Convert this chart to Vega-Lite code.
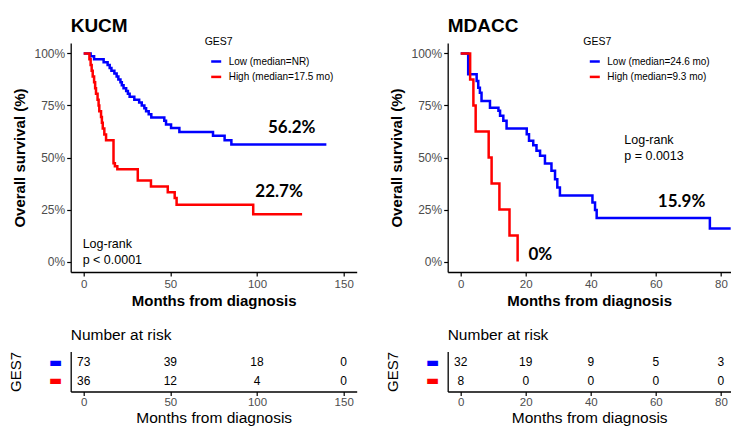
{
  "$schema": "https://vega.github.io/schema/vega-lite/v6.json",
  "padding": {"left": 7.7, "top": 16, "right": 0, "bottom": 0},
  "background": "white",
  "datasets": {
    "kucm_curve": [
      {"group": "Low (median=NR)", "time": 0, "surv": 1},
      {"group": "Low (median=NR)", "time": 4, "surv": 0.986},
      {"group": "Low (median=NR)", "time": 6, "surv": 0.972},
      {"group": "Low (median=NR)", "time": 11.5, "surv": 0.958},
      {"group": "Low (median=NR)", "time": 13.8, "surv": 0.944},
      {"group": "Low (median=NR)", "time": 15, "surv": 0.93},
      {"group": "Low (median=NR)", "time": 16, "surv": 0.917},
      {"group": "Low (median=NR)", "time": 17.7, "surv": 0.903},
      {"group": "Low (median=NR)", "time": 19, "surv": 0.889},
      {"group": "Low (median=NR)", "time": 20, "surv": 0.875},
      {"group": "Low (median=NR)", "time": 21.2, "surv": 0.861},
      {"group": "Low (median=NR)", "time": 22, "surv": 0.847},
      {"group": "Low (median=NR)", "time": 23, "surv": 0.833},
      {"group": "Low (median=NR)", "time": 24.5, "surv": 0.819},
      {"group": "Low (median=NR)", "time": 25.5, "surv": 0.806},
      {"group": "Low (median=NR)", "time": 26.5, "surv": 0.792},
      {"group": "Low (median=NR)", "time": 29.2, "surv": 0.778},
      {"group": "Low (median=NR)", "time": 32, "surv": 0.764},
      {"group": "Low (median=NR)", "time": 33.5, "surv": 0.75},
      {"group": "Low (median=NR)", "time": 35, "surv": 0.736},
      {"group": "Low (median=NR)", "time": 36, "surv": 0.722},
      {"group": "Low (median=NR)", "time": 37.5, "surv": 0.708},
      {"group": "Low (median=NR)", "time": 39, "surv": 0.692},
      {"group": "Low (median=NR)", "time": 46.5, "surv": 0.676},
      {"group": "Low (median=NR)", "time": 47.5, "surv": 0.658},
      {"group": "Low (median=NR)", "time": 50.4, "surv": 0.642},
      {"group": "Low (median=NR)", "time": 55.2, "surv": 0.623},
      {"group": "Low (median=NR)", "time": 74.6, "surv": 0.604},
      {"group": "Low (median=NR)", "time": 81.3, "surv": 0.583},
      {"group": "Low (median=NR)", "time": 85.2, "surv": 0.562},
      {"group": "Low (median=NR)", "time": 140, "surv": 0.562},
      {"group": "High (median=17.5 mo)", "time": 0, "surv": 1},
      {"group": "High (median=17.5 mo)", "time": 3.3, "surv": 0.972},
      {"group": "High (median=17.5 mo)", "time": 4.0, "surv": 0.944},
      {"group": "High (median=17.5 mo)", "time": 4.6, "surv": 0.917},
      {"group": "High (median=17.5 mo)", "time": 5.2, "surv": 0.889},
      {"group": "High (median=17.5 mo)", "time": 6.0, "surv": 0.861},
      {"group": "High (median=17.5 mo)", "time": 6.6, "surv": 0.833},
      {"group": "High (median=17.5 mo)", "time": 7.1, "surv": 0.806},
      {"group": "High (median=17.5 mo)", "time": 8.0, "surv": 0.778},
      {"group": "High (median=17.5 mo)", "time": 8.6, "surv": 0.75},
      {"group": "High (median=17.5 mo)", "time": 9.0, "surv": 0.722},
      {"group": "High (median=17.5 mo)", "time": 10.0, "surv": 0.694},
      {"group": "High (median=17.5 mo)", "time": 10.5, "surv": 0.667},
      {"group": "High (median=17.5 mo)", "time": 11.0, "surv": 0.639},
      {"group": "High (median=17.5 mo)", "time": 11.9, "surv": 0.611},
      {"group": "High (median=17.5 mo)", "time": 12.9, "surv": 0.583},
      {"group": "High (median=17.5 mo)", "time": 17.2, "surv": 0.472},
      {"group": "High (median=17.5 mo)", "time": 18.0, "surv": 0.458},
      {"group": "High (median=17.5 mo)", "time": 19.4, "surv": 0.444},
      {"group": "High (median=17.5 mo)", "time": 31.2, "surv": 0.389},
      {"group": "High (median=17.5 mo)", "time": 38.8, "surv": 0.361},
      {"group": "High (median=17.5 mo)", "time": 48.5, "surv": 0.333},
      {"group": "High (median=17.5 mo)", "time": 52.5, "surv": 0.305},
      {"group": "High (median=17.5 mo)", "time": 53.6, "surv": 0.273},
      {"group": "High (median=17.5 mo)", "time": 97.8, "surv": 0.227},
      {"group": "High (median=17.5 mo)", "time": 126, "surv": 0.227}
    ],
    "mdacc_curve": [
      {"group": "Low (median=24.6 mo)", "time": 0, "surv": 1},
      {"group": "Low (median=24.6 mo)", "time": 2.3, "surv": 0.9},
      {"group": "Low (median=24.6 mo)", "time": 4.9, "surv": 0.867},
      {"group": "Low (median=24.6 mo)", "time": 5.4, "surv": 0.835},
      {"group": "Low (median=24.6 mo)", "time": 5.9, "surv": 0.811},
      {"group": "Low (median=24.6 mo)", "time": 6.4, "surv": 0.771},
      {"group": "Low (median=24.6 mo)", "time": 9.0, "surv": 0.739},
      {"group": "Low (median=24.6 mo)", "time": 11.6, "surv": 0.724},
      {"group": "Low (median=24.6 mo)", "time": 12.1, "surv": 0.7},
      {"group": "Low (median=24.6 mo)", "time": 13.1, "surv": 0.676},
      {"group": "Low (median=24.6 mo)", "time": 14.1, "surv": 0.639},
      {"group": "Low (median=24.6 mo)", "time": 20.3, "surv": 0.612},
      {"group": "Low (median=24.6 mo)", "time": 21.0, "surv": 0.58},
      {"group": "Low (median=24.6 mo)", "time": 22.3, "surv": 0.559},
      {"group": "Low (median=24.6 mo)", "time": 23.3, "surv": 0.532},
      {"group": "Low (median=24.6 mo)", "time": 24.4, "surv": 0.508},
      {"group": "Low (median=24.6 mo)", "time": 25.9, "surv": 0.471},
      {"group": "Low (median=24.6 mo)", "time": 27.9, "surv": 0.436},
      {"group": "Low (median=24.6 mo)", "time": 29.0, "surv": 0.396},
      {"group": "Low (median=24.6 mo)", "time": 29.7, "surv": 0.356},
      {"group": "Low (median=24.6 mo)", "time": 30.5, "surv": 0.317},
      {"group": "Low (median=24.6 mo)", "time": 40.5, "surv": 0.284},
      {"group": "Low (median=24.6 mo)", "time": 41.3, "surv": 0.248},
      {"group": "Low (median=24.6 mo)", "time": 41.8, "surv": 0.209},
      {"group": "Low (median=24.6 mo)", "time": 76.6, "surv": 0.159},
      {"group": "Low (median=24.6 mo)", "time": 83, "surv": 0.159},
      {"group": "High (median=9.3 mo)", "time": 0, "surv": 1},
      {"group": "High (median=9.3 mo)", "time": 2.9, "surv": 0.875},
      {"group": "High (median=9.3 mo)", "time": 3.9, "surv": 0.75},
      {"group": "High (median=9.3 mo)", "time": 4.6, "surv": 0.625},
      {"group": "High (median=9.3 mo)", "time": 8.6, "surv": 0.5},
      {"group": "High (median=9.3 mo)", "time": 9.5, "surv": 0.375},
      {"group": "High (median=9.3 mo)", "time": 11.9, "surv": 0.25},
      {"group": "High (median=9.3 mo)", "time": 15.0, "surv": 0.125},
      {"group": "High (median=9.3 mo)", "time": 17.5, "surv": 0}
    ],
    "kucm_ann": [
      {"kind": "pct", "time": 120, "surv": 0.643, "label": "56.2%"},
      {"kind": "pct", "time": 112.7, "surv": 0.332, "label": "22.7%"},
      {"kind": "txt", "time": -0.6, "surv": 0.086, "label": "Log-rank"},
      {"kind": "txt", "time": -0.6, "surv": 0.008, "label": "p < 0.0001"}
    ],
    "mdacc_ann": [
      {"kind": "pct", "time": 67.9, "surv": 0.284, "label": "15.9%"},
      {"kind": "pct", "time": 24.5, "surv": 0.034, "label": "0%"},
      {"kind": "txt", "time": 50.3, "surv": 0.583, "label": "Log-rank"},
      {"kind": "txt", "time": 50.3, "surv": 0.508, "label": "p = 0.0013"}
    ],
    "kucm_risk": [
      {"group": "Low", "time": 0, "n": 73},
      {"group": "Low", "time": 50, "n": 39},
      {"group": "Low", "time": 100, "n": 18},
      {"group": "Low", "time": 150, "n": 0},
      {"group": "High", "time": 0, "n": 36},
      {"group": "High", "time": 50, "n": 12},
      {"group": "High", "time": 100, "n": 4},
      {"group": "High", "time": 150, "n": 0}
    ],
    "mdacc_risk": [
      {"group": "Low", "time": 0, "n": 32},
      {"group": "Low", "time": 20, "n": 19},
      {"group": "Low", "time": 40, "n": 9},
      {"group": "Low", "time": 60, "n": 5},
      {"group": "Low", "time": 80, "n": 3},
      {"group": "High", "time": 0, "n": 8},
      {"group": "High", "time": 20, "n": 0},
      {"group": "High", "time": 40, "n": 0},
      {"group": "High", "time": 60, "n": 0},
      {"group": "High", "time": 80, "n": 0}
    ]
  },
  "columns": 2,
  "concat": [
    {
      "width": 286,
      "height": 229,
      "title": {"text": "KUCM", "anchor": "start", "frame": "group", "fontSize": 19, "fontWeight": "bold", "offset": 1.3, "color": "black"},
      "layer": [
        {
          "data": {"name": "kucm_curve"},
          "mark": {"type": "line", "interpolate": "step-after", "strokeWidth": 2.5},
          "encoding": {
            "x": {"field": "time", "type": "quantitative", "scale": {"domain": [-7.5, 157.5], "nice": false, "zero": false},
              "axis": {"values": [0, 50, 100, 150], "title": "Months from diagnosis", "titleFontSize": 15, "titleFontWeight": "bold", "labelPadding": 3, "titlePadding": 3}},
            "y": {"field": "surv", "type": "quantitative", "scale": {"domain": [-0.05, 1.05], "nice": false, "zero": false},
              "axis": {"values": [0, 0.25, 0.5, 0.75, 1], "format": ".0%", "title": "Overall survival (%)", "titleFontSize": 15, "titleFontWeight": "bold", "labelFontSize": 12, "labelPadding": 2, "titlePadding": 7}},
            "color": {"field": "group", "type": "nominal", "sort": null,
              "scale": {"domain": ["Low (median=NR)", "High (median=17.5 mo)"], "range": ["#0000ff", "#ff0000"]},
              "legend": {"title": "GES7", "orient": "none", "legendX": 134, "legendY": -6}}
          }
        },
        {
          "data": {"name": "kucm_ann"},
          "transform": [{"filter": "datum.kind == 'pct'"}],
          "mark": {"type": "text", "font": "Lato", "fontWeight": "bold", "fontSize": 17, "align": "center", "baseline": "middle", "color": "black"},
          "encoding": {
            "x": {"field": "time", "type": "quantitative"},
            "y": {"field": "surv", "type": "quantitative"},
            "text": {"field": "label"}
          }
        },
        {
          "data": {"name": "kucm_ann"},
          "transform": [{"filter": "datum.kind == 'txt'"}],
          "mark": {"type": "text", "fontSize": 12.5, "align": "left", "baseline": "middle", "color": "black"},
          "encoding": {
            "x": {"field": "time", "type": "quantitative"},
            "y": {"field": "surv", "type": "quantitative"},
            "text": {"field": "label"}
          }
        }
      ]
    },
    {
      "width": 283,
      "height": 229,
      "title": {"text": "MDACC", "anchor": "start", "frame": "group", "fontSize": 19, "fontWeight": "bold", "offset": 1.3, "color": "black"},
      "layer": [
        {
          "data": {"name": "mdacc_curve"},
          "mark": {"type": "line", "interpolate": "step-after", "strokeWidth": 2.5},
          "encoding": {
            "x": {"field": "time", "type": "quantitative", "scale": {"domain": [-4, 83], "nice": false, "zero": false},
              "axis": {"values": [0, 20, 40, 60, 80], "title": "Months from diagnosis", "titleFontSize": 15, "titleFontWeight": "bold", "labelPadding": 3, "titlePadding": 3}},
            "y": {"field": "surv", "type": "quantitative", "scale": {"domain": [-0.05, 1.05], "nice": false, "zero": false},
              "axis": {"values": [0, 0.25, 0.5, 0.75, 1], "format": ".0%", "title": "Overall survival (%)", "titleFontSize": 15, "titleFontWeight": "bold", "labelFontSize": 12, "labelPadding": 2, "titlePadding": 7}},
            "color": {"field": "group", "type": "nominal", "sort": null,
              "scale": {"domain": ["Low (median=24.6 mo)", "High (median=9.3 mo)"], "range": ["#0000ff", "#ff0000"]},
              "legend": {"title": "GES7", "orient": "none", "legendX": 135.6, "legendY": -6}}
          }
        },
        {
          "data": {"name": "mdacc_ann"},
          "transform": [{"filter": "datum.kind == 'pct'"}],
          "mark": {"type": "text", "font": "Lato", "fontWeight": "bold", "fontSize": 17, "align": "center", "baseline": "middle", "color": "black"},
          "encoding": {
            "x": {"field": "time", "type": "quantitative"},
            "y": {"field": "surv", "type": "quantitative"},
            "text": {"field": "label"}
          }
        },
        {
          "data": {"name": "mdacc_ann"},
          "transform": [{"filter": "datum.kind == 'txt'"}],
          "mark": {"type": "text", "fontSize": 12.5, "align": "left", "baseline": "middle", "color": "black"},
          "encoding": {
            "x": {"field": "time", "type": "quantitative"},
            "y": {"field": "surv", "type": "quantitative"},
            "text": {"field": "label"}
          }
        }
      ]
    },
    {
      "width": 286,
      "height": 40,
      "title": {"text": "Number at risk", "anchor": "start", "frame": "group", "fontSize": 15.5, "fontWeight": "normal", "offset": 8, "color": "black"},
      "data": {"name": "kucm_risk"},
      "mark": {"type": "text", "fontSize": 12, "color": "black", "baseline": "middle"},
      "encoding": {
        "x": {"field": "time", "type": "quantitative", "scale": {"domain": [-7.5, 157.5], "nice": false, "zero": false},
          "axis": {"values": [0, 50, 100, 150], "title": "Months from diagnosis", "titleFontSize": 15.5, "titleFontWeight": "normal", "labelPadding": 1, "titlePadding": 2.5}},
        "y": {"field": "group", "type": "nominal", "sort": ["Low", "High"], "scale": {"type": "point", "padding": 0.6},
          "axis": {"title": "GES7", "titleFontSize": 15, "titleFontWeight": "normal", "labelExpr": "'▬'", "labelFont": "DejaVu Sans", "labelFontSize": 14,
            "labelColor": {"expr": "datum.value == 'Low' ? '#0000ff' : '#ff0000'"}, "ticks": false, "labelPadding": 9, "titlePadding": 25}},
        "text": {"field": "n", "type": "quantitative"}
      }
    },
    {
      "width": 283,
      "height": 40,
      "title": {"text": "Number at risk", "anchor": "start", "frame": "group", "fontSize": 15.5, "fontWeight": "normal", "offset": 8, "color": "black"},
      "data": {"name": "mdacc_risk"},
      "mark": {"type": "text", "fontSize": 12, "color": "black", "baseline": "middle"},
      "encoding": {
        "x": {"field": "time", "type": "quantitative", "scale": {"domain": [-4, 83], "nice": false, "zero": false},
          "axis": {"values": [0, 20, 40, 60, 80], "title": "Months from diagnosis", "titleFontSize": 15.5, "titleFontWeight": "normal", "labelPadding": 1, "titlePadding": 2.5}},
        "y": {"field": "group", "type": "nominal", "sort": ["Low", "High"], "scale": {"type": "point", "padding": 0.6},
          "axis": {"title": "GES7", "titleFontSize": 15, "titleFontWeight": "normal", "labelExpr": "'▬'", "labelFont": "DejaVu Sans", "labelFontSize": 14,
            "labelColor": {"expr": "datum.value == 'Low' ? '#0000ff' : '#ff0000'"}, "ticks": false, "labelPadding": 9, "titlePadding": 25}},
        "text": {"field": "n", "type": "quantitative"}
      }
    }
  ],
  "spacing": {"row": 79.5, "column": 91},
  "bounds": "flush",
  "resolve": {"scale": {"x": "independent", "y": "independent", "color": "independent"}},
  "config": {
    "font": "Liberation Sans",
    "view": {"stroke": null},
    "title": {"color": "black"},
    "axis": {"grid": false, "domainColor": "black", "domainWidth": 1.3, "tickColor": "black", "tickSize": 4, "tickWidth": 1.2,
      "labelColor": "#4d4d4d", "labelFontSize": 11.5, "titleColor": "black", "labelFont": "Liberation Sans", "titleFont": "Liberation Sans"},
    "legend": {"symbolType": "stroke", "symbolStrokeWidth": 2.5, "symbolSize": 100, "symbolOffset": 5, "labelFontSize": 10, "titleFontSize": 10.5, "titleFontWeight": "normal",
      "labelColor": "black", "titleColor": "black", "rowPadding": 3.4, "titlePadding": 7.5, "labelOffset": 6, "labelFont": "Liberation Sans", "titleFont": "Liberation Sans"}
  }
}
